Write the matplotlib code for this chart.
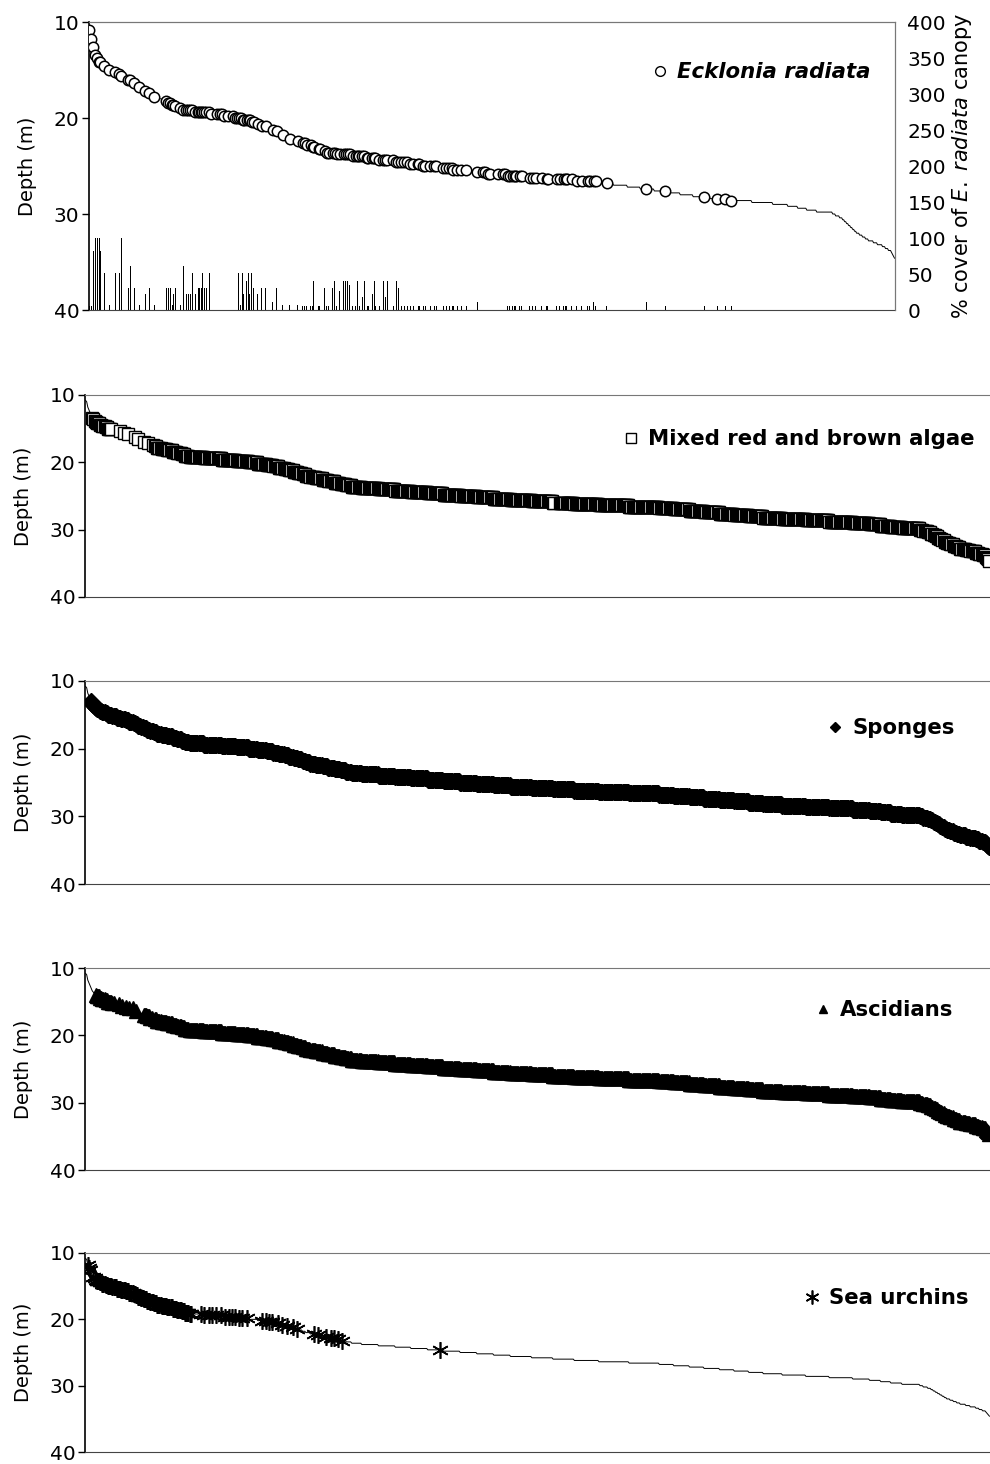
import numpy as np
import matplotlib.pyplot as plt
from matplotlib.lines import Line2D

plt.rcParams['font.family'] = ['DejaVu Sans']
plt.rcParams['mathtext.fontset'] = 'dejavusans'

# samples sorted by depth: depth level (m) and number of samples at it
depth_levels = [10.8, 11.0, 11.8, 12.2, 12.6, 13.0, 13.4, 13.6, 13.8, 14.0,
                14.2, 14.4, 14.6, 14.8, 15.0, 15.2, 15.4, 15.6, 15.8, 16.0,
                16.2, 16.4, 16.6, 16.8, 17.0, 17.2, 17.4, 17.6, 17.8, 18.0,
                18.2, 18.4, 18.6, 18.8, 19.0, 19.2, 19.4, 19.6, 19.8, 20.0,
                20.2, 20.4, 20.6, 20.8, 21.0, 21.2, 21.4, 21.6, 21.8, 22.0,
                22.2, 22.4, 22.6, 22.8, 23.0, 23.2, 23.4, 23.6, 23.8, 24.0,
                24.2, 24.4, 24.6, 24.8, 25.0, 25.2, 25.4, 25.6, 25.8, 26.0,
                26.2, 26.4, 26.6, 26.8, 27.0, 27.2, 27.4, 27.6, 27.8, 28.0,
                28.2, 28.4, 28.6, 28.8, 29.0, 29.2, 29.4, 29.6, 29.8, 30.0,
                30.2, 30.4, 30.6, 30.8, 31.0, 31.2, 31.4, 31.6, 31.8, 32.0,
                32.2, 32.4, 32.6, 32.8, 33.0, 33.2, 33.4, 33.6, 33.8, 34.0,
                34.2, 34.4, 34.6]
depth_counts = [1, 1, 1, 1, 1, 1, 1, 1, 1, 1,
                3, 2, 3, 2, 4, 4, 4, 4, 3, 4,
                2, 2, 3, 2, 3, 3, 3, 3, 4, 5,
                5, 4, 4, 3, 4, 13, 16, 13, 11, 8,
                8, 6, 5, 5, 4, 4, 4, 4, 3, 4,
                5, 6, 5, 6, 5, 5, 5, 9, 15, 15,
                14, 15, 14, 15, 15, 15, 15, 19, 19, 19,
                22, 27, 27, 13, 14, 13, 14, 13, 13, 13,
                17, 21, 21, 21, 15, 10, 9, 10, 16, 3,
                4, 3, 2, 2, 2, 2, 2, 2, 2, 3,
                3, 3, 3, 5, 4, 5, 3, 3, 3, 1,
                1, 1, 1]

# Ecklonia radiata: samples where present and % canopy cover
eck_idx = [0, 2, 4, 6, 8, 10, 11, 15, 20, 26, 30, 32, 39, 41, 45, 50, 56, 60,
           65, 77, 79, 81, 83, 84, 86, 91, 94, 97, 99, 101, 103, 106, 109, 110,
           112, 113, 115, 117, 120, 122, 128, 131, 133, 135, 139, 144, 146,
           148, 150, 152, 154, 155, 158, 160, 161, 163, 165, 169, 173, 177,
           184, 188, 194, 201, 209, 214, 216, 218, 222, 224, 225, 230, 231,
           236, 238, 240, 244, 246, 248, 251, 255, 257, 259, 261, 264, 267,
           269, 271, 274, 276, 279, 280, 284, 286, 287, 291, 295, 297, 299,
           305, 308, 310, 313, 316, 319, 322, 325, 330, 331, 335, 337, 342,
           346, 348, 355, 358, 361, 364, 365, 369, 373, 378, 389, 395, 397,
           400, 402, 410, 415, 417, 420, 422, 425, 427, 428, 432, 434, 442,
           445, 448, 454, 459, 460, 469, 472, 476, 478, 479, 484, 489, 494,
           500, 502, 506, 508, 519, 559, 578, 617, 630, 638, 644]
eck_cover = [5, 5, 82, 100, 100, 100, 82, 51, 7, 51, 51, 100, 30, 61, 30, 7, 22, 30,
             7, 30, 30, 30, 7, 22, 30, 7, 61, 22, 22, 22, 51, 22, 30, 30,
             30, 51, 30, 30, 51, 22, 22, 51, 30, 22, 40, 22, 40,
             51, 51, 7, 51, 22, 40, 51, 22, 51, 30, 22, 30, 30,
             11, 30, 7, 7, 7, 5, 5, 5, 5, 5, 40, 5, 5,
             30, 5, 5, 30, 40, 5, 27, 40, 40, 40, 35, 5, 5,
             40, 5, 18, 40, 5, 5, 22, 40, 5, 5, 40, 18, 40,
             5, 40, 30, 5, 5, 5, 5, 5, 5, 5, 5, 5, 5,
             5, 5, 5, 5, 5, 5, 5, 5, 5, 5, 11, 5, 5,
             11, 11, 11, 5, 11, 5, 5, 5, 5, 5, 5, 5, 5,
             5, 5, 5, 5, 5, 5, 5, 5, 5, 5, 5, 5, 5,
             5, 5, 11, 5, 5, 11, 5, 5, 5, 5, 5]

# other groups: runs of samples (start, stop) and single samples where present
algae_runs = [(6, 24), (62, 420), (424, 809)]
algae_single = [31, 34, 38, 44, 47, 52, 56, 60]
sponge_runs = [(5, 809)]
sponge_single = []
ascid_runs = [(9, 26), (52, 60), (62, 809)]
ascid_single = [30, 33, 36, 39, 42, 45]
urchin_runs = [(7, 95)]
urchin_single = [2, 3, 4, 103, 106, 110, 113, 117, 121, 125, 128, 131, 134,
                 137, 140, 144, 158, 161, 164, 167, 172, 176, 180, 185, 189,
                 204, 208, 215, 219, 222, 226, 229, 317]

depth = np.repeat(depth_levels, depth_counts)
n = len(depth)
x = np.arange(n)


def present(runs, single):
    idx = list(single)
    for a, b in runs:
        idx += list(range(a, b))
    return np.array(sorted(set(i for i in idx if i < n)))


W, H = 990, 1464
fig = plt.figure(figsize=(W / 100, H / 100), dpi=100)


def frac(left, top, right, bottom):
    return [left / W, 1 - bottom / H, (right - left) / W, (bottom - top) / H]


def style_depth_axis(ax, right_spine=True):
    ax.set_ylim(40, 10)
    ax.set_yticks([10, 20, 30, 40])
    ax.set_xlim(-0.5, n - 0.5)
    ax.set_xticks([])
    ax.set_ylabel('Depth (m)', fontsize=14, labelpad=12)
    ax.tick_params(axis='y', direction='out', length=5, width=1, labelsize=14.5, pad=2)
    ax.spines['top'].set_color('#777777')
    ax.spines['right'].set_color('#777777')
    ax.spines['right'].set_visible(right_spine)
    ax.spines['left'].set_linewidth(1.2)
    ax.spines['bottom'].set_color('#444444')
    ax.plot(x, depth, color='k', lw=0.7, zorder=2)


def add_legend(ax, handle, label, bx, by, style='normal'):
    ax.legend([handle], [label], loc='upper right', bbox_to_anchor=(bx, by),
              frameon=False, borderpad=0, borderaxespad=0, handletextpad=0.3,
              handlelength=1.0,
              prop={'family': 'DejaVu Sans', 'weight': 'bold',
                    'style': style, 'size': 15.3})


# panel 1: Ecklonia radiata with canopy cover bars
ax1 = fig.add_axes(frac(89, 22, 895, 310))
style_depth_axis(ax1)
eck = np.array(eck_idx)
ax1.plot(eck, depth[eck], ls='none', marker='o', ms=7.5, mfc='white', mec='k',
         mew=1.1, zorder=3)
ax2 = ax1.twinx()
ax2.bar(eck, eck_cover, width=0.9, color='k', linewidth=0)
ax2.set_ylim(0, 400)
ax2.set_yticks(range(0, 401, 50))
ax2.tick_params(axis='y', direction='out', length=0, labelsize=14.5, pad=9)
ax2.set_ylabel(r'% cover of $\it{E.\ radiata}$ canopy', fontsize=15,
               rotation=90, labelpad=3)
for s in ['top', 'right']:
    ax2.spines[s].set_color('#777777')
ax2.spines['bottom'].set_visible(False)
ax2.spines['left'].set_visible(False)
add_legend(ax1, Line2D([], [], ls='none', marker='o', ms=7, mfc='white', mec='k', mew=1.0),
           'Ecklonia radiata', 0.969, 0.861, style='italic')

# panels 2-5
panels = [
    ((85, 395, 990, 597), algae_runs, algae_single,
     dict(marker='s', ms=8, mfc='white', mec='k', mew=1.0),
     'Mixed red and brown algae', 0.983, 0.831),
    ((85, 681, 990, 884), sponge_runs, sponge_single,
     dict(marker='D', ms=8.5, mfc='k', mec='k', mew=1.0),
     'Sponges', 0.961, 0.817),
    ((85, 968, 990, 1170), ascid_runs, ascid_single,
     dict(marker='^', ms=9.5, mfc='k', mec='k', mew=1.0),
     'Ascidians', 0.959, 0.841),
    ((85, 1253, 990, 1452), urchin_runs, urchin_single,
     dict(marker=(6, 2, 0), ms=12, mfc='k', mec='k', mew=1.2),
     'Sea urchins', 0.976, 0.822),
]

for box, runs, single, mk, label, bx, by in panels:
    ax = fig.add_axes(frac(*box))
    style_depth_axis(ax, right_spine=False)
    idx = present(runs, single)
    ax.plot(idx, depth[idx], ls='none', zorder=3, **mk)
    legend_mk = dict(mk)
    if mk['marker'] in ('D', '^'):
        legend_mk['ms'] = mk['ms'] * 0.65
    elif mk['marker'] == 's':
        legend_mk['ms'] = 7
    else:
        legend_mk['ms'] = 10
    add_legend(ax, Line2D([], [], ls='none', **legend_mk), label, bx, by)

fig.savefig('out.png', dpi=100)
